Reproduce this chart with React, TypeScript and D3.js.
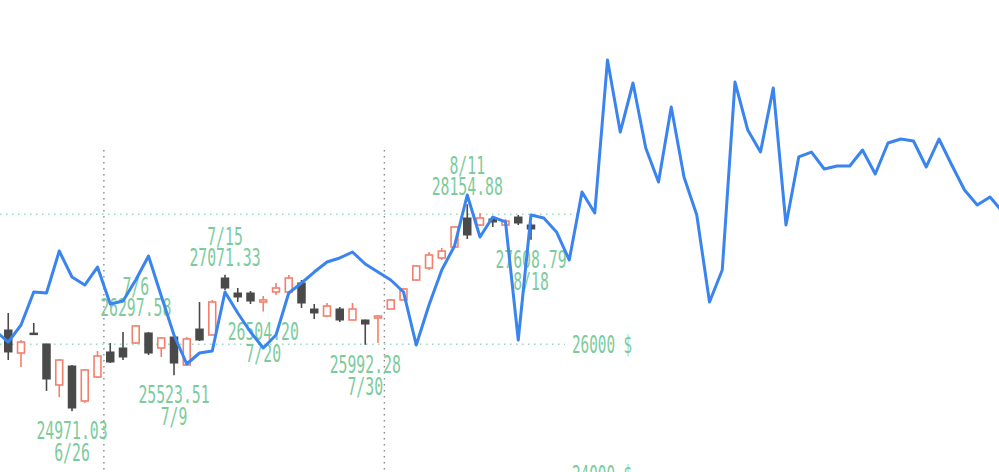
import React from "react";
import * as d3 from "d3";

const dates = [
  "6/19","6/22","6/23","6/24","6/25","6/26","6/29","6/30",
  "7/1","7/2","7/6","7/7","7/8","7/9","7/10","7/13","7/14","7/15","7/16","7/17","7/20",
  "7/21","7/22","7/23","7/24","7/27","7/28","7/29","7/30","7/31",
  "8/3","8/4","8/5","8/6","8/7","8/10","8/11","8/12","8/13","8/14","8/17","8/18",
];
const opens = [
  26220,25866,26172,26005,25374,25666,25128,25497,
  25882,25943,26020,26174,25943,26112,25682,26235,26143,27020,26789,26789,26651,
  26805,26805,26943,26543,26435,26543,26374,26374,26405,
  26543,26682,26989,27174,27328,27497,27943,27835,27928,27835,27958,27835,
];
const highs = [
  26482,26066,26328,26010,25774,25680,25620,25897,
  26020,26189,26297.58,26189,26112,26128,26112,26651,26682,27071.33,26866,26820,26743,
  26943,27066,26989,26620,26635,26574,26635,26380,26451,
  26697,26866,27220,27420,27482,27820,28154.88,28020,27974,27928,27989,27866,
];
const lows = [
  25758,25651,26166,25282,25189,24971.03,25097,25482,
  25712,25758,26005,25835,25805,25523.51,25666,26051,26140,26835,26651,26620,26504.2,
  26758,26800,26558,26389,26420,26343,26370,25992.28,26020,
  26540,26680,26974,27143,27297,27482,27620,27820,27805,27820,27835,27608.79,
];
const closes = [
  25882,26035,26168,25466,25758,25020,25605,25820,
  25728,25805,26282,25866,26097,25712,26082,26066,26651,26866,26728,26666,26682,
  26866,27020,26635,26482,26589,26374,26543,26312,26435,
  26682,26851,27205,27374,27435,27805,27682,27943,27882,27897,27866,27774,
];

// blue line, one value per trading slot, starting at slot -1
const lineStart = -1;
const lineValues = [
  26205,26035,26297,26805,26790,27435,27035,26912,27189,26620,26666,26989,27358,26743,
  26143,25697,25866,25897,26805,26482,26189,25943,26143,26789,26943,27112,27266,27328,
  27420,27235,27112,26989,26805,25989,26605,27143,27512,28297,27651,27958,27882,26066,
  27989,27943,27728,27297,28343,28020,30374,29266,30020,29020,28497,29651,28574,27989,
  26651,27143,30035,29297,28958,29943,27835,28882,28958,28697,28743,28743,28989,28620,
  29097,29158,29128,28728,29158,28758,28374,28143,28266,28035,
];

const markDates = ["6/26","7/6","7/9","7/15","7/20","7/30","8/11","8/18"];
const markKinds = ["low","high","low","high","low","low","high","low"];

const gridValues = [28000, 26000];
const axisLabelValues = [26000, 24000];
const monthStarts = ["7/1", "8/3"];

const W = 999, H = 472;
const FONT = "'DejaVu Sans Mono', monospace";
const GREEN = "#7ccb9c";
const RED = "#f47f6c";
const DARK = "#4a4a4a";
const BLUE = "#3a84ef";
const CHAR_W = 8.9;

export default function App() {
  const x = d3.scaleLinear().domain([0, 77]).range([8.25, 990]);
  const y = d3.scaleLinear().domain([24000, 28000]).range([474.3, 214.3]);
  const bodyW = 8.5;

  const linePts = lineValues.map((v, k) => [x(lineStart + k), y(v)] as [number, number]);
  const linePath = d3.line()(linePts) || "";

  const fmt = d3.format(".2f");

  const label = (txt: string, cx: number, by: number, key: string) => (
    <text
      key={key}
      x={cx}
      y={by}
      textAnchor="middle"
      fontFamily={FONT}
      fontSize={25}
      fill={GREEN}
      textLength={txt.length * CHAR_W}
      lengthAdjust="spacingAndGlyphs"
    >
      {txt}
    </text>
  );

  return (
    <svg width={W} height={H} style={{ position: "absolute", left: 0, top: 0, background: "#fff" }}>
      {monthStarts.map((m) => {
        const i = dates.indexOf(m);
        const xv = (x(i - 1) + x(i)) / 2;
        return (
          <line key={m} x1={xv} x2={xv} y1={150} y2={H} stroke="#8a8a8a" strokeWidth={1.4} strokeDasharray="1.5,4.5" />
        );
      })}
      {gridValues.map((g, k) => (
        <line key={g} x1={0} x2={k === 0 ? 578 : 565} y1={y(g)} y2={y(g)} stroke="#9ad8bd" strokeWidth={1.4} strokeDasharray="1.5,4.5" />
      ))}
      {axisLabelValues.map((v) => (
        <text
          key={v}
          x={572}
          y={y(v) + 9}
          fontFamily={FONT}
          fontSize={25}
          fill={GREEN}
          textLength={7 * 8.6}
          lengthAdjust="spacingAndGlyphs"
        >
          {`${v} $`}
        </text>
      ))}
      {dates.map((d, i) => {
        const up = closes[i] >= opens[i];
        const cx = x(i);
        const top = y(Math.max(opens[i], closes[i]));
        const bot = y(Math.min(opens[i], closes[i]));
        const col = up ? RED : DARK;
        const h = Math.max(bot - top, 1.5);
        return (
          <g key={d}>
            <line x1={cx} x2={cx} y1={y(highs[i])} y2={top} stroke={col} strokeWidth={1.6} />
            <line x1={cx} x2={cx} y1={bot} y2={y(lows[i])} stroke={col} strokeWidth={1.6} />
            {up ? (
              <rect x={cx - bodyW / 2 + 0.8} y={top} width={bodyW - 1.6} height={h} fill="#fff" stroke={col} strokeWidth={1.6} />
            ) : (
              <rect x={cx - bodyW / 2} y={top - 0.5} width={bodyW} height={h + 1} fill={col} />
            )}
          </g>
        );
      })}
      {markDates.map((d, k) => {
        const i = dates.indexOf(d);
        const cx = x(i);
        if (markKinds[k] === "low") {
          const ly = y(lows[i]);
          return (
            <g key={d}>
              {label(fmt(lows[i]), cx, ly + 28, d + "v")}
              {label(d, cx, ly + 50, d + "d")}
            </g>
          );
        }
        const hy = y(highs[i]);
        return (
          <g key={d}>
            {label(fmt(highs[i]), cx, hy - 9, d + "v")}
            {label(d, cx, hy - 30, d + "d")}
          </g>
        );
      })}
      <path d={linePath} fill="none" stroke={BLUE} strokeWidth={3} strokeLinejoin="round" />
    </svg>
  );
}
